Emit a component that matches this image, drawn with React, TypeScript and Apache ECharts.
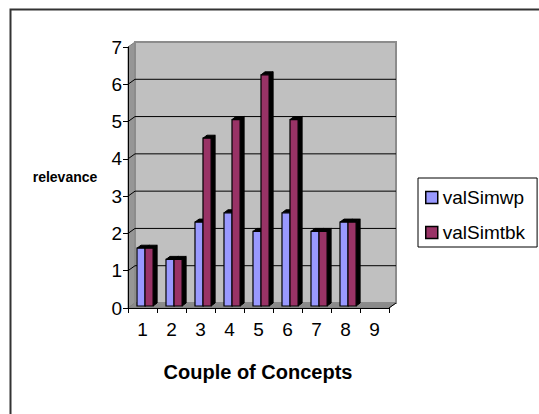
import React, { useEffect, useRef } from "react";
import * as echarts from "echarts";

const categories = ["1", "2", "3", "4", "5", "6", "7", "8", "9"];
const valSimwp: (number | null)[] = [1.55, 1.25, 2.25, 2.5, 2.0, 2.5, 2.0, 2.25, null];
const valSimtbk: (number | null)[] = [1.55, 1.25, 4.5, 5.0, 6.2, 5.0, 2.0, 2.25, null];
const yTicks = [0, 1, 2, 3, 4, 5, 6, 7];

const FONT = "Arial, 'Liberation Sans', sans-serif";
const WALL_DX = 7;
const WALL_DY = -5;
const BAR_DX = 4;
const BAR_DY = -3;
const BAR_SHIFT_Y = -2;

function toData(arr: (number | null)[]) {
  const out: number[][] = [];
  arr.forEach((v, i) => {
    if (v != null) out.push([i, v]);
  });
  return out;
}

function barRenderer(offsetFrac: number, color: string) {
  return (params: any, api: any) => {
    const ci = api.value(0);
    const v = api.value(1);
    const top = api.coord([ci, v]);
    const base = api.coord([ci, 0]);
    const bw = api.size([1, 0])[0];
    const left = top[0] + offsetFrac * bw;
    const w = 0.28 * bw;
    const right = left + w;
    const ty = top[1] + BAR_SHIFT_Y;
    const by = base[1] + BAR_SHIFT_Y;
    return {
      type: "group",
      children: [
        {
          type: "polygon",
          shape: {
            points: [
              [right, ty],
              [right + BAR_DX, ty + BAR_DY],
              [right + BAR_DX, by + BAR_DY],
              [right, by],
            ],
          },
          style: { fill: "#000", stroke: "#000", lineWidth: 1 },
        },
        {
          type: "polygon",
          shape: {
            points: [
              [left, ty],
              [left + BAR_DX, ty + BAR_DY],
              [right + BAR_DX, ty + BAR_DY],
              [right, ty],
            ],
          },
          style: { fill: "#000", stroke: "#000", lineWidth: 1 },
        },
        {
          type: "rect",
          shape: { x: left, y: ty, width: w, height: by - ty },
          style: { fill: color, stroke: "#000", lineWidth: 1.2 },
        },
      ],
    };
  };
}

function wallRenderer(params: any, api: any) {
  const cs = params.coordSys;
  const x = cs.x;
  const y = cs.y;
  const w = cs.width;
  const h = cs.height;
  const children: any[] = [];
  children.push({
    type: "polygon",
    shape: {
      points: [
        [x, y],
        [x + WALL_DX, y + WALL_DY],
        [x + WALL_DX, y + h + WALL_DY],
        [x, y + h],
      ],
    },
    style: { fill: "#969696", stroke: "#808080", lineWidth: 1 },
  });
  children.push({
    type: "polygon",
    shape: {
      points: [
        [x, y + h],
        [x + w, y + h],
        [x + w + WALL_DX, y + h + WALL_DY],
        [x + WALL_DX, y + h + WALL_DY],
      ],
    },
    style: { fill: "#8a8a8a", stroke: "#808080", lineWidth: 1 },
  });
  children.push({
    type: "rect",
    shape: { x: x + WALL_DX, y: y + WALL_DY, width: w, height: h },
    style: { fill: "#c0c0c0", stroke: "#8c8c8c", lineWidth: 2 },
  });
  yTicks.forEach((t) => {
    if (t === 0 || t === yTicks[yTicks.length - 1]) return;
    const p = api.coord([0, t]);
    const yy = p[1];
    children.push({
      type: "line",
      shape: { x1: x + WALL_DX, y1: yy + WALL_DY, x2: x + w + WALL_DX, y2: yy + WALL_DY },
      style: { stroke: "#000", lineWidth: 1 },
    });
    children.push({
      type: "line",
      shape: { x1: x, y1: yy, x2: x + WALL_DX, y2: yy + WALL_DY },
      style: { stroke: "#000", lineWidth: 1 },
    });
  });
  children.push({
    type: "line",
    shape: { x1: x + w, y1: y + h, x2: x + w + WALL_DX, y2: y + h + WALL_DY },
    style: { stroke: "#000", lineWidth: 1 },
  });
  return { type: "group", children };
}

export default function App() {
  const ref = useRef<HTMLDivElement>(null);
  useEffect(() => {
    if (!ref.current) return;
    const chart = echarts.init(ref.current, undefined, { renderer: "svg" });
    chart.setOption({
      animation: false,
      backgroundColor: "#ffffff",
      textStyle: { fontFamily: FONT },
      grid: { left: 128, top: 47, width: 261, height: 261 },
      xAxis: {
        type: "category",
        data: categories,
        boundaryGap: true,
        z: 10,
        axisLine: { show: true, lineStyle: { color: "#000", width: 1 } },
        axisTick: { show: true, length: 5, lineStyle: { color: "#000" } },
        axisLabel: { fontSize: 19, color: "#000", margin: 12, fontFamily: FONT },
        splitLine: { show: false },
      },
      yAxis: {
        type: "value",
        min: 0,
        max: 7,
        interval: 1,
        z: 10,
        axisLine: { show: true, lineStyle: { color: "#000", width: 1 } },
        axisTick: { show: true, length: 5, lineStyle: { color: "#000" } },
        axisLabel: { fontSize: 19, color: "#000", margin: 6, fontFamily: FONT },
        splitLine: { show: false },
      },
      legend: {
        data: ["valSimwp", "valSimtbk"],
        orient: "vertical",
        left: 418,
        top: 178,
        icon: "rect",
        itemWidth: 12,
        itemHeight: 12,
        itemGap: 16,
        padding: [10, 12, 5, 7],
        borderColor: "#000",
        borderWidth: 1,
        backgroundColor: "#fff",
        borderRadius: 0,
        itemStyle: { borderColor: "#000", borderWidth: 1.5 },
        textStyle: { fontSize: 19, color: "#000", fontFamily: FONT },
      },
      graphic: [
        {
          type: "rect",
          left: 8,
          top: 7,
          shape: { width: 560, height: 440 },
          style: { fill: "none", stroke: "#333", lineWidth: 2 },
          z: -10,
          silent: true,
        },
        {
          type: "text",
          x: 65,
          y: 177,
          style: {
            text: "relevance",
            font: `bold 14px ${FONT}`,
            fill: "#000",
            align: "center",
            verticalAlign: "middle",
          },
        },
        {
          type: "text",
          x: 258,
          y: 372,
          style: {
            text: "Couple of Concepts",
            font: `bold 20px ${FONT}`,
            fill: "#000",
            align: "center",
            verticalAlign: "middle",
          },
        },
      ],
      series: [
        {
          name: "wall",
          type: "custom",
          z: 1,
          silent: true,
          renderItem: wallRenderer,
          data: [[0, 0]],
          encode: { x: 0, y: 1 },
        },
        {
          name: "valSimwp",
          type: "custom",
          z: 3,
          itemStyle: { color: "#9999ff" },
          renderItem: barRenderer(-0.19, "#9999ff"),
          data: toData(valSimwp),
          encode: { x: 0, y: 1 },
        },
        {
          name: "valSimtbk",
          type: "custom",
          z: 4,
          itemStyle: { color: "#993366" },
          renderItem: barRenderer(0.086, "#993366"),
          data: toData(valSimtbk),
          encode: { x: 0, y: 1 },
        },
      ],
    });
    return () => chart.dispose();
  }, []);
  return (
    <div
      ref={ref}
      style={{ position: "absolute", left: 0, top: 0, width: 539, height: 414 }}
    />
  );
}
